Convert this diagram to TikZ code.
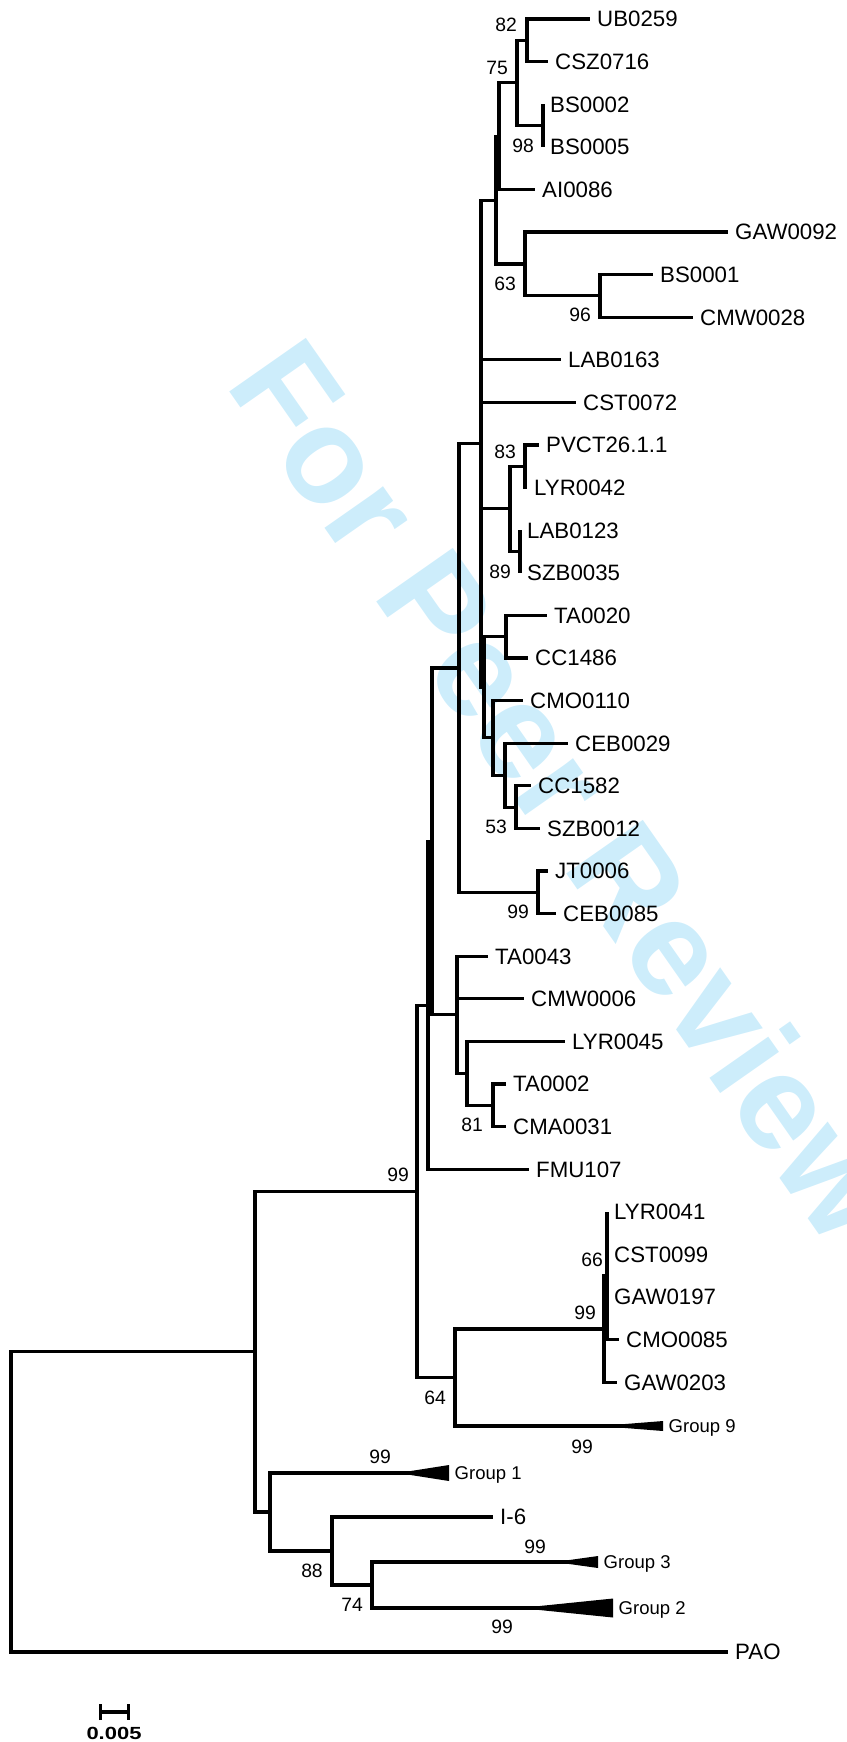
\documentclass[tikz,border=0pt]{standalone}
\usepackage{fontspec}
\setmainfont{Liberation Sans}
\usetikzlibrary{arrows.meta}
\definecolor{wmblue}{RGB}{205,237,251}
\tikzset{
  branch/.style={line width=0.95mm,line join=miter},
  leaf/.style={anchor=west,inner xsep=2.1mm,inner ysep=0pt,font=\fontsize{19}{19}\selectfont,text height=13.6pt,text depth=0pt},
  boot/.style={inner sep=0pt,font=\fontsize{16.5}{16.5}\selectfont,text height=11.8pt,text depth=0pt},
  grp/.style={anchor=west,inner xsep=1.65mm,inner ysep=0pt,font=\fontsize{15.8}{15.8}\selectfont,text height=11.3pt,text depth=0pt},
  clade/.style={fill=black}
}
\begin{document}
\begin{tikzpicture}[x=0.3mm,y=-0.3mm]
  \useasboundingbox (0,0) rectangle (847,1742);
  \node[rotate=-55,anchor=base west,inner sep=0pt,text=wmblue,font=\fontsize{116}{116}\selectfont\bfseries] (wm) at (224,384) {For Peer Review};
  % leaves
  \node[leaf] (ub0259) at (590,19) {UB0259};
  \node[leaf] (csz0716) at (548,61.6) {CSZ0716};
  \node[leaf] (bs0002) at (543,104.2) {BS0002};
  \node[leaf] (bs0005) at (543,146.8) {BS0005};
  \node[leaf] (ai0086) at (535,189.4) {AI0086};
  \node[leaf] (gaw0092) at (728,232) {GAW0092};
  \node[leaf] (bs0001) at (653,274.6) {BS0001};
  \node[leaf] (cmw0028) at (693,317.2) {CMW0028};
  \node[leaf] (lab0163) at (561,359.8) {LAB0163};
  \node[leaf] (cst0072) at (576,402.4) {CST0072};
  \node[leaf] (pvct) at (539,445) {PVCT26.1.1};
  \node[leaf] (lyr0042) at (527,487.6) {LYR0042};
  \node[leaf] (lab0123) at (520,530.2) {LAB0123};
  \node[leaf] (szb0035) at (520,572.8) {SZB0035};
  \node[leaf] (ta0020) at (547,615.4) {TA0020};
  \node[leaf] (cc1486) at (528,658) {CC1486};
  \node[leaf] (cmo0110) at (523,700.6) {CMO0110};
  \node[leaf] (ceb0029) at (568,743.2) {CEB0029};
  \node[leaf] (cc1582) at (531,785.8) {CC1582};
  \node[leaf] (szb0012) at (540,828.4) {SZB0012};
  \node[leaf] (jt0006) at (548,871) {JT0006};
  \node[leaf] (ceb0085) at (556,913.6) {CEB0085};
  \node[leaf] (ta0043) at (488,956.2) {TA0043};
  \node[leaf] (cmw0006) at (524,998.8) {CMW0006};
  \node[leaf] (lyr0045) at (565,1041.4) {LYR0045};
  \node[leaf] (ta0002) at (506,1084) {TA0002};
  \node[leaf] (cma0031) at (506,1126.6) {CMA0031};
  \node[leaf] (fmu107) at (529,1169.2) {FMU107};
  \node[leaf] (lyr0041) at (607,1211.8) {LYR0041};
  \node[leaf] (cst0099) at (607,1254.4) {CST0099};
  \node[leaf] (gaw0197) at (607,1297) {GAW0197};
  \node[leaf] (cmo0085) at (619,1339.6) {CMO0085};
  \node[leaf] (gaw0203) at (617,1382.2) {GAW0203};
  \node[leaf] (isix) at (493,1517) {I-6};
  \node[leaf] (pao) at (728,1652) {PAO};
  % collapsed groups
  \node[grp] (g9) at (663,1426) {Group 9};
  \node[grp] (g1) at (449,1473) {Group 1};
  \node[grp] (g3) at (598,1562) {Group 3};
  \node[grp] (g2) at (613,1608) {Group 2};
  \coordinate (g9a) at (600,1426);
  \coordinate (g1a) at (398,1473);
  \coordinate (g3a) at (555,1562);
  \coordinate (g2a) at (520,1608);
  \fill[clade] (g9a) -- ++(63,-5) -- ++(0,10) -- cycle;
  \fill[clade] (g1a) -- ++(51,-8) -- ++(0,16) -- cycle;
  \fill[clade] (g3a) -- ++(43,-6) -- ++(0,12) -- cycle;
  \fill[clade] (g2a) -- ++(93,-9.5) -- ++(0,19) -- cycle;
  % inner nodes
  \coordinate (n82) at (527,40.3);
  \coordinate (n98) at (543,125.5);
  \coordinate (n75) at (517,82.9);
  \coordinate (na) at (499,136.2);
  \coordinate (n96) at (600,295.9);
  \coordinate (n63) at (525,264);
  \coordinate (nb) at (496,200.1);
  \coordinate (n83) at (525,466.3);
  \coordinate (n89) at (520,551.5);
  \coordinate (np) at (510,508.9);
  \coordinate (nt) at (506,636.7);
  \coordinate (n53) at (516,807.1);
  \coordinate (ne) at (505,775.2);
  \coordinate (nc) at (493,737.9);
  \coordinate (q2) at (484,687.3);
  \coordinate (q1) at (481,443.7);
  \coordinate (n99j) at (538,892.3);
  \coordinate (nj) at (459,668);
  \coordinate (n81) at (493,1105.3);
  \coordinate (n467) at (467,1073.4);
  \coordinate (nta) at (457,1014.8);
  \coordinate (p2) at (432,841.4);
  \coordinate (p1) at (428,1005.3);
  \coordinate (n66) at (607,1275.7);
  \coordinate (n99g) at (604,1329);
  \coordinate (n64) at (455,1377.5);
  \coordinate (n99) at (417,1191.4);
  \coordinate (n74) at (372,1585);
  \coordinate (n88) at (332,1551);
  \coordinate (nr) at (270,1512);
  \coordinate (nl) at (255,1351.7);
  \coordinate (root) at (11,1501.9);
  % branches
  \draw[branch] (n82) |- (ub0259.west) (n82) |- (csz0716.west);
  \draw[branch] (n98) |- (bs0002.west) (n98) |- (bs0005.west);
  \draw[branch] (n75) |- (n82) (n75) |- (n98);
  \draw[branch] (na) |- (n75) (na) |- (ai0086.west);
  \draw[branch] (n96) |- (bs0001.west) (n96) |- (cmw0028.west);
  \draw[branch] (n63) |- (gaw0092.west) (n63) |- (n96);
  \draw[branch] (nb) |- (na) (nb) |- (n63);
  \draw[branch] (n83) |- (pvct.west) (n83) |- (lyr0042.west);
  \draw[branch] (n89) |- (lab0123.west) (n89) |- (szb0035.west);
  \draw[branch] (np) |- (n83) (np) |- (n89);
  \draw[branch] (nt) |- (ta0020.west) (nt) |- (cc1486.west);
  \draw[branch] (n53) |- (cc1582.west) (n53) |- (szb0012.west);
  \draw[branch] (ne) |- (ceb0029.west) (ne) |- (n53);
  \draw[branch] (nc) |- (cmo0110.west) (nc) |- (ne);
  \draw[branch] (q2) |- (nt) (q2) |- (nc);
  \draw[branch] (q1) |- (nb) (q1) |- (lab0163.west) (q1) |- (cst0072.west) (q1) |- (np) (q1) |- (q2);
  \draw[branch] (n99j) |- (jt0006.west) (n99j) |- (ceb0085.west);
  \draw[branch] (nj) |- (q1) (nj) |- (n99j);
  \draw[branch] (n81) |- (ta0002.west) (n81) |- (cma0031.west);
  \draw[branch] (n467) |- (lyr0045.west) (n467) |- (n81);
  \draw[branch] (nta) |- (ta0043.west) (nta) |- (cmw0006.west) (nta) |- (n467);
  \draw[branch] (p2) |- (nj) (p2) |- (nta);
  \draw[branch] (p1) |- (p2) (p1) |- (fmu107.west);
  \draw[branch] (n66) |- (lyr0041.west) (n66) |- (cst0099.west) (n66) |- (gaw0197.west) (n66) |- (cmo0085.west);
  \draw[branch] (n99g) |- (n66) (n99g) |- (gaw0203.west);
  \draw[branch] (n64) |- (n99g) (n64) |- (g9a) -- ([xshift=-1mm]g9.west);
  \draw[branch] (n99) |- (p1) (n99) |- (n64);
  \draw[branch] (n74) |- (g3a) -- ([xshift=-1mm]g3.west) (n74) |- (g2a) -- ([xshift=-1mm]g2.west);
  \draw[branch] (n88) |- (isix.west) (n88) |- (n74);
  \draw[branch] (nr) |- (g1a) -- ([xshift=-1mm]g1.west) (nr) |- (n88);
  \draw[branch] (nl) |- (n99) (nl) |- (nr);
  \draw[branch] (root) |- (nl) (root) |- (pao.west);
  % bootstrap values
  \node[boot] (b82) at (506,25) {82};
  \node[boot] (b75) at (497,68) {75};
  \node[boot] (b98) at (523,146) {98};
  \node[boot] (b63) at (505,284) {63};
  \node[boot] (b96) at (580,315) {96};
  \node[boot] (b83) at (505,452) {83};
  \node[boot] (b89) at (500,572) {89};
  \node[boot] (b53) at (496,827) {53};
  \node[boot] (b99j) at (518,912) {99};
  \node[boot] (b81) at (472,1125) {81};
  \node[boot] (b99) at (398,1175) {99};
  \node[boot] (b66) at (592,1260) {66};
  \node[boot] (b99g) at (585,1313) {99};
  \node[boot] (b64) at (435,1398) {64};
  \node[boot] (b99n) at (582,1447) {99};
  \node[boot] (b99a) at (380,1457) {99};
  \node[boot] (b88) at (312,1571) {88};
  \node[boot] (b74) at (352,1605) {74};
  \node[boot] (b99c) at (535,1547) {99};
  \node[boot] (b99b) at (502,1627) {99};
  % scale bar
  \coordinate (sba) at (99,1712);
  \coordinate (sbb) at (130,1712);
  \draw[branch,{Bar[width=4.8mm]}-{Bar[width=4.8mm]}] (sba) -- (sbb);
  \node[inner sep=0pt,font=\fontsize{15}{15}\selectfont\bfseries] (sbl) at (114,1733) {\scalebox{1.25}[1]{0.005}};
\end{tikzpicture}
\end{document}
